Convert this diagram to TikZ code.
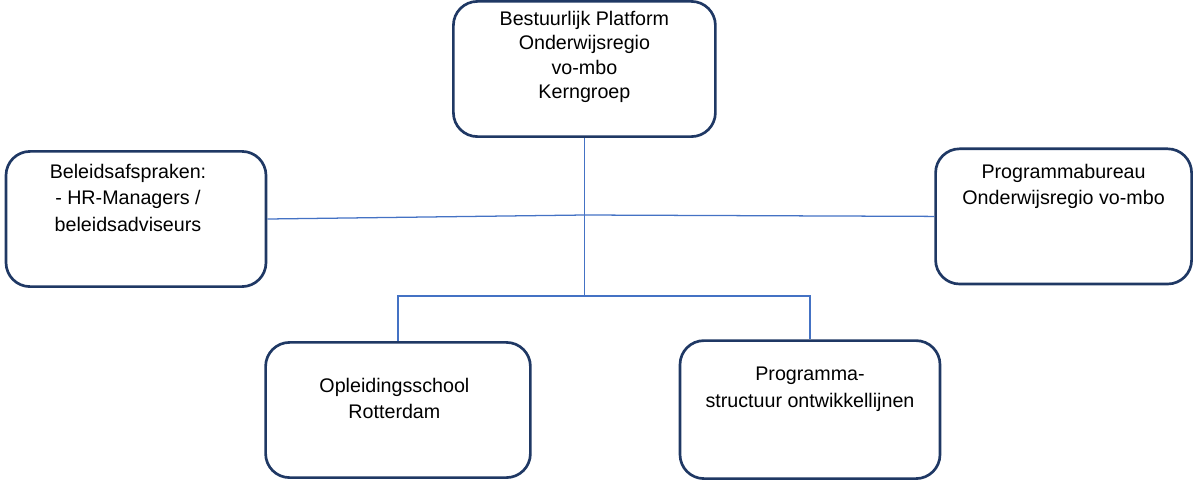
\documentclass[tikz,border=0pt]{standalone}
\usepackage{fontspec}
\setmainfont{Liberation Sans}
\usetikzlibrary{positioning, calc}
\definecolor{boxnavy}{RGB}{31,56,100}
\definecolor{linkblue}{RGB}{68,114,196}

\begin{document}
\begin{tikzpicture}[
        node distance=0.5cm,
        orgbox/.style={rectangle, draw=boxnavy, line width=1.9pt, rounded corners=0.6cm, minimum width=6.5cm, minimum height=3.38cm},
        boxtext/.style={align=center, inner sep=0pt, font=\fontsize{14}{18.9}\selectfont},
        link/.style={draw=linkblue, line width=0.9pt}
    ]
        \useasboundingbox (0,0) rectangle (29.875,-12.025);

        \node[orgbox, minimum width=6.55cm] (platform) at (14.61,-1.725) {};
        \node[orgbox] (beleid) at (3.4,-5.475) {};
        \node[orgbox, minimum width=6.4cm] (bureau) at (26.59,-5.41) {};
        \node[orgbox, minimum width=6.62cm] (school) at (9.95,-10.25) {};
        \node[orgbox, minimum height=3.45cm] (structuur) at (20.25,-10.24) {};

        \node[boxtext, below=0.26cm of platform.north, font=\fontsize{14}{17.5}\selectfont] (platformtext) {Bestuurlijk Platform\\Onderwijsregio\\vo-mbo\\Kerngroep};
        \node[boxtext, below=0.34cm of beleid.north, xshift=-0.2cm] (beleidtext) {Beleidsafspraken:\\- HR-Managers /\\beleidsadviseurs};
        \node[boxtext, below=0.41cm of bureau.north] (bureautext) {Programmabureau\\Onderwijsregio vo-mbo};
        \node[boxtext, below=0.91cm of school.north, xshift=-0.09cm] (schooltext) {Opleidingsschool\\Rotterdam};
        \node[boxtext, below=0.69cm of structuur.north] (structuurtext) {Programma-\\structuur ontwikkellijnen};

        \coordinate (hub) at (platform.south |- 0,-5.375);
        \coordinate (split) at (platform.south |- 0,-7.4);
        \draw[link] (platform.south) -- (split);
        \draw[link] (beleid.east) -- (hub) -- (bureau.west);
        \draw[link] (school.north) |- (split) -| (structuur.north);
    \end{tikzpicture}
\end{document}
